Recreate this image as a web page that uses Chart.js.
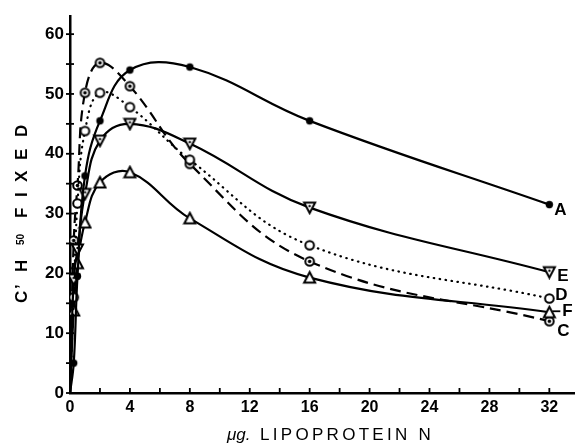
<!DOCTYPE html>
<html>
<head>
<meta charset="utf-8">
<script src="https://cdn.jsdelivr.net/npm/chart.js@4"></script>
<style>
  html, body { margin: 0; padding: 0; background: #fff; }
  #wrap { width: 582px; height: 447px; }
</style>
</head>
<body>
<div id="wrap"><canvas id="lipoChart" width="582" height="447"></canvas></div>
<script>
// Its all about the lipoprotein fixation curves
// x values: ug lipoprotein N (same doses for every curve)
const doses = [0, 0.25, 0.5, 1, 2, 4, 8, 16, 32];

// C'H50 fixed
const seriesA = [0, 5, 19.5, 36.3, 45.5, 54, 54.5, 45.5, 31.5];
const seriesC = [0, 25.5, 34.7, 50.2, 55.2, 51.3, 38.3, 22, 12];
const seriesD = [0, 16, 31.7, 43.8, 50.2, 47.8, 39, 24.7, 15.8];
const seriesE = [0, 19, 24, 33.3, 42.2, 45, 41.7, 31, 20.2];
const seriesF = [0, 13.8, 21.7, 28.5, 35.2, 36.9, 29.2, 19.3, 13.5];

// tick labels
const xTickLabels = ['0', '4', '8', '12', '16', '20', '24', '28', '32'];
const yTickLabels = ['0', '10', '20', '30', '40', '50', '60'];

const FONT = '"Liberation Sans", Arial, sans-serif';

// little marker images (dot, ring, ring with dot, triangles)
function makeMarker(kind) {
  const c = document.createElement('canvas');
  c.width = 15; c.height = 15;
  const g = c.getContext('2d');
  const m = 7.5;
  g.lineWidth = 2;
  g.strokeStyle = '#000';
  g.fillStyle = '#fff';
  if (kind === 'dot') {
    g.fillStyle = '#000';
    g.beginPath(); g.arc(m, m, 3.7, 0, Math.PI * 2); g.fill();
  } else if (kind === 'ring' || kind === 'ringDot') {
    g.beginPath(); g.arc(m, m, 4.3, 0, Math.PI * 2); g.fill(); g.stroke();
    if (kind === 'ringDot') {
      g.fillStyle = '#000';
      g.beginPath(); g.arc(m, m, 1.8, 0, Math.PI * 2); g.fill();
    }
  } else {
    const up = kind === 'triUp';
    g.beginPath();
    if (up) { g.moveTo(m, 2); g.lineTo(13, 12.5); g.lineTo(2, 12.5); }
    else { g.moveTo(2, 2.5); g.lineTo(13, 2.5); g.lineTo(m, 13); }
    g.closePath(); g.fill(); g.stroke();
    if (!up) {
      g.fillStyle = '#000';
      g.beginPath(); g.arc(m, 6, 1.2, 0, Math.PI * 2); g.fill();
    }
  }
  return c;
}

function toPoints(ys) {
  return ys.map((y, i) => ({ x: doses[i], y: y }));
}

// curve label placement next to the last point
const endLabels = {
  A: { dx: 5, dy: 6 },
  E: { dx: 8, dy: 4 },
  D: { dx: 6, dy: -3 },
  F: { dx: 13, dy: -1, dash: true },
  C: { dx: 8, dy: 10 }
};

function curve(name, ys, marker, dash, cap) {
  return {
    label: name,
    data: toPoints(ys),
    borderColor: '#000',
    borderWidth: 2.2,
    borderDash: dash,
    borderCapStyle: cap || 'butt',
    fill: false,
    tension: 0.4,
    pointStyle: makeMarker(marker),
    pointRadius: ctx => (ctx.dataIndex === 0 ? 0 : 5),
    pointHoverRadius: 5
  };
}

// ticks pointing into the plot, titles, and curve letters
const decorPlugin = {
  id: 'decor',
  afterDraw(chart) {
    const ctx = chart.ctx;
    const xs = chart.scales.x;
    const ys = chart.scales.y;
    const area = chart.chartArea;
    ctx.save();
    ctx.strokeStyle = '#000';
    ctx.lineWidth = 1.8;
    xs.ticks.forEach(t => {
      const px = xs.getPixelForValue(t.value);
      ctx.beginPath(); ctx.moveTo(px, area.bottom); ctx.lineTo(px, area.bottom - 5); ctx.stroke();
    });
    ys.ticks.forEach(t => {
      const py = ys.getPixelForValue(t.value);
      ctx.beginPath(); ctx.moveTo(area.left - 4, py); ctx.lineTo(area.left + 4, py); ctx.stroke();
    });

    // curve letters
    ctx.fillStyle = '#000';
    ctx.font = 'bold 17px ' + FONT;
    ctx.textAlign = 'left';
    ctx.textBaseline = 'middle';
    chart.data.datasets.forEach((ds, i) => {
      const pts = chart.getDatasetMeta(i).data;
      const last = pts[pts.length - 1];
      const o = endLabels[ds.label];
      if (o.dash) {
        ctx.beginPath(); ctx.moveTo(last.x + 3, last.y + o.dy); ctx.lineTo(last.x + 11, last.y + o.dy); ctx.stroke();
      }
      ctx.fillText(ds.label, last.x + o.dx, last.y + o.dy);
    });

    // y title, rotated, with subscript 50
    ctx.save();
    ctx.translate(27, 303);
    ctx.rotate(-Math.PI / 2);
    ctx.textBaseline = 'alphabetic';
    ctx.font = 'bold 17px ' + FONT;
    ctx.fillText('C', 0, 0);
    ctx.fillText('\u2019', 14, 0);
    ctx.fillText('H', 31, 0);
    ctx.font = 'bold 10px ' + FONT;
    ctx.fillText('50', 58, -3);
    ctx.font = 'bold 17px ' + FONT;
    const fixed = 'FIXED';
    const at = [85, 106, 121, 143, 166];
    for (let k = 0; k < fixed.length; k++) ctx.fillText(fixed[k], at[k], 0);
    ctx.restore();

    // x title
    ctx.textBaseline = 'alphabetic';
    ctx.font = 'italic 17px ' + FONT;
    ctx.fillText('\u03bcg.', 227, 440);
    ctx.font = '17px ' + FONT;
    ctx.letterSpacing = '3.3px';
    ctx.fillText('LIPOPROTEIN N', 260, 440);
    ctx.restore();
  }
};

const lipoCtx = document.getElementById('lipoChart').getContext('2d');
const lipoChart = new Chart(lipoCtx, {
  type: 'line',
  data: {
    datasets: [
      curve('A', seriesA, 'dot', []),
      curve('E', seriesE, 'triDown', []),
      curve('D', seriesD, 'ring', [0.5, 5.5], 'round'),
      curve('F', seriesF, 'triUp', []),
      curve('C', seriesC, 'ringDot', [11, 6])
    ]
  },
  options: {
    responsive: false,
    animation: false,
    devicePixelRatio: 1,
    layout: { padding: { top: 15, right: 4, left: 0, bottom: 0 } },
    plugins: {
      legend: { display: false },
      tooltip: { enabled: false }
    },
    scales: {
      x: {
        type: 'linear',
        min: 0,
        max: 33.7,
        grid: { drawOnChartArea: false, drawTicks: false },
        border: { display: true, color: '#000', width: 2.5 },
        ticks: {
          stepSize: 2,
          includeBounds: false,
          padding: 5,
          autoSkip: false,
          maxRotation: 0,
          color: '#000',
          font: { family: FONT, size: 16, weight: 'bold' },
          callback: v => (xTickLabels.includes(String(v)) ? String(v) : '')
        },
        afterBuildTicks: s => { s.ticks = s.ticks.filter(t => t.value % 2 === 0); },
        afterFit: s => { s.height = 54; }
      },
      y: {
        min: 0,
        max: 63,
        grid: { drawOnChartArea: false, drawTicks: false },
        border: { display: true, color: '#000', width: 2.5 },
        ticks: {
          stepSize: 5,
          includeBounds: false,
          padding: 6,
          autoSkip: false,
          color: '#000',
          font: { family: FONT, size: 17, weight: 'bold' },
          callback: v => (yTickLabels.includes(String(v)) ? String(v) : '')
        },
        afterBuildTicks: s => { s.ticks = s.ticks.filter(t => t.value % 5 === 0); },
        afterFit: s => { s.width = 70; }
      }
    }
  },
  plugins: [decorPlugin]
});
</script>
</body>
</html>
